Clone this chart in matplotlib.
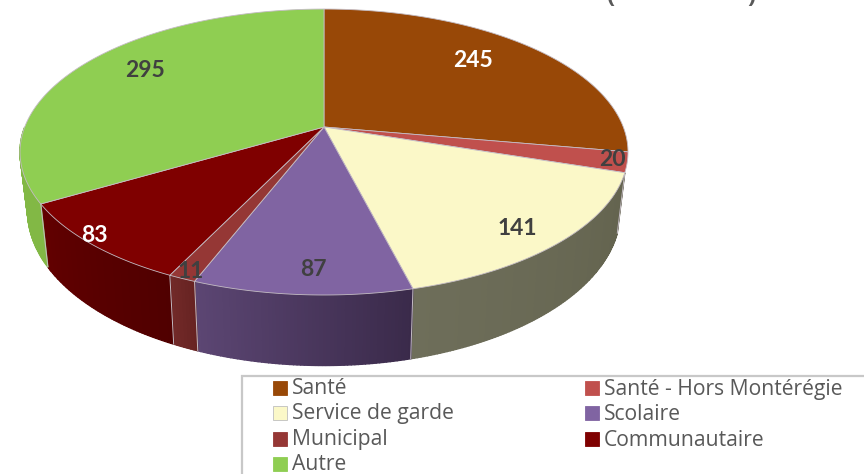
import numpy as np
import matplotlib
matplotlib.use("Agg")
import matplotlib.pyplot as plt
from matplotlib.patches import Polygon, Rectangle
from matplotlib.colors import to_rgb

categories = ["Santé", "Santé - Hors Montérégie", "Service de garde", "Scolaire",
              "Municipal", "Communautaire", "Autre"]
values = [245, 20, 141, 87, 11, 83, 295]
top_colors = ["#984807", "#C0504D", "#FBF8C8", "#8064A2", "#953735", "#7F0000", "#8FCE52"]
side_left = ["#6E3405", "#8A3A38", "#6E6E5A", "#5C4673", "#722A28", "#620000", "#82B845"]
side_right = ["#6E3405", "#8A3A38", "#63634E", "#3A2A4A", "#662222", "#500000", "#82B845"]
label_colors = ["white", "#404040", "#404040", "#404040", "#404040", "white", "#404040"]
label_xy = [(473, 60), (612, 159), (517, 228), (313, 270), (191, 271), (94, 235), (145, 70)]

fig = plt.figure(figsize=(8.64, 4.74), dpi=100)
ax = fig.add_axes([0, 0, 1, 1])
ax.set_xlim(0, 864)
ax.set_ylim(474, 0)
ax.axis("off")

# perspective projection of the pie disc
CX, CY, A, B, K = 324, 127, 299.3, 138.6, 0.175

def top_xy(theta):
    u, v = np.sin(theta), np.cos(theta)
    d = 1 + K * v
    return CX + A * u / d, CY - B * v / d

def bottom_xy(theta):
    x, y = top_xy(theta)
    return CX + (x - CX) * 0.975, y + 46.5 + 0.0814 * y

def mix(c1, c2, t):
    a, b = np.array(to_rgb(c1)), np.array(to_rgb(c2))
    return tuple(a + (b - a) * t)

edges = np.cumsum([0] + values) / sum(values) * 2 * np.pi
EDGE = "#C4BCC4"
WALL_START, WALL_END = np.radians(108.0), np.radians(270.0)

def on_wall(t):
    return WALL_START <= t <= WALL_END

# side wall: visible front part only, as shaded strips
for i in range(len(values)):
    t0, t1 = edges[i], edges[i + 1]
    n = max(int((t1 - t0) / 0.01), 2)
    ts = np.linspace(t0, t1, n + 1)
    for j in range(n):
        a, b = ts[j], ts[j + 1]
        if not on_wall((a + b) / 2):
            continue
        xa, ya = top_xy(a); xb, yb = top_xy(b)
        xc, yc = bottom_xy(b); xd, yd = bottom_xy(a)
        col = mix(side_left[i], side_right[i], 1 - (j + 0.5) / n)
        ax.add_patch(Polygon([(xa, ya), (xb, yb), (xc, yc), (xd, yd)], closed=True,
                             facecolor=col, edgecolor=col, linewidth=1.0, zorder=2))
for t in edges:
    if on_wall(t):
        xt, yt = top_xy(t); xb, yb = bottom_xy(t)
        ax.plot([xt, xb], [yt, yb], color=EDGE, lw=0.7, zorder=3)

# top faces
for i in range(len(values)):
    ts = np.linspace(edges[i], edges[i + 1], 120)
    x, y = top_xy(ts)
    pts = [(CX, CY)] + list(zip(x, y))
    ax.add_patch(Polygon(pts, closed=True, facecolor=top_colors[i], edgecolor=EDGE,
                         linewidth=0.6, zorder=4))

for v, (x, y), c in zip(values, label_xy, label_colors):
    ax.text(x, y, str(v), color=c, fontsize=16.5, fontweight="bold", family="Lato",
            ha="center", va="center", zorder=6)

# clipped title remnants at the top edge
for x, s in ((611, "("), (751, ")")):
    ax.text(x, 3, s, color="#595959", fontsize=17, fontweight="bold", family="Open Sans",
            ha="center", va="baseline", zorder=6, clip_on=True)

# legend
ax.add_patch(Rectangle((241.5, 375.5), 640, 110, facecolor="white", edgecolor="#C8C8C8",
                       linewidth=1.6, zorder=5))
leg_x = [273, 585]
leg_y = [388, 413, 439, 464]
for i, name in enumerate(categories):
    col, row = i % 2, i // 2
    ax.add_patch(Rectangle((leg_x[col], leg_y[row] - 7), 14, 14, facecolor=top_colors[i],
                           edgecolor="#BFBFBF" if i == 2 else top_colors[i], linewidth=0.6, zorder=6))
    ax.text(leg_x[col] + 19, leg_y[row] + 6.5, name, color="#595959", fontsize=15.2,
            family="Open Sans", ha="left", va="baseline", zorder=6)

fig.savefig("out.png", dpi=100)
